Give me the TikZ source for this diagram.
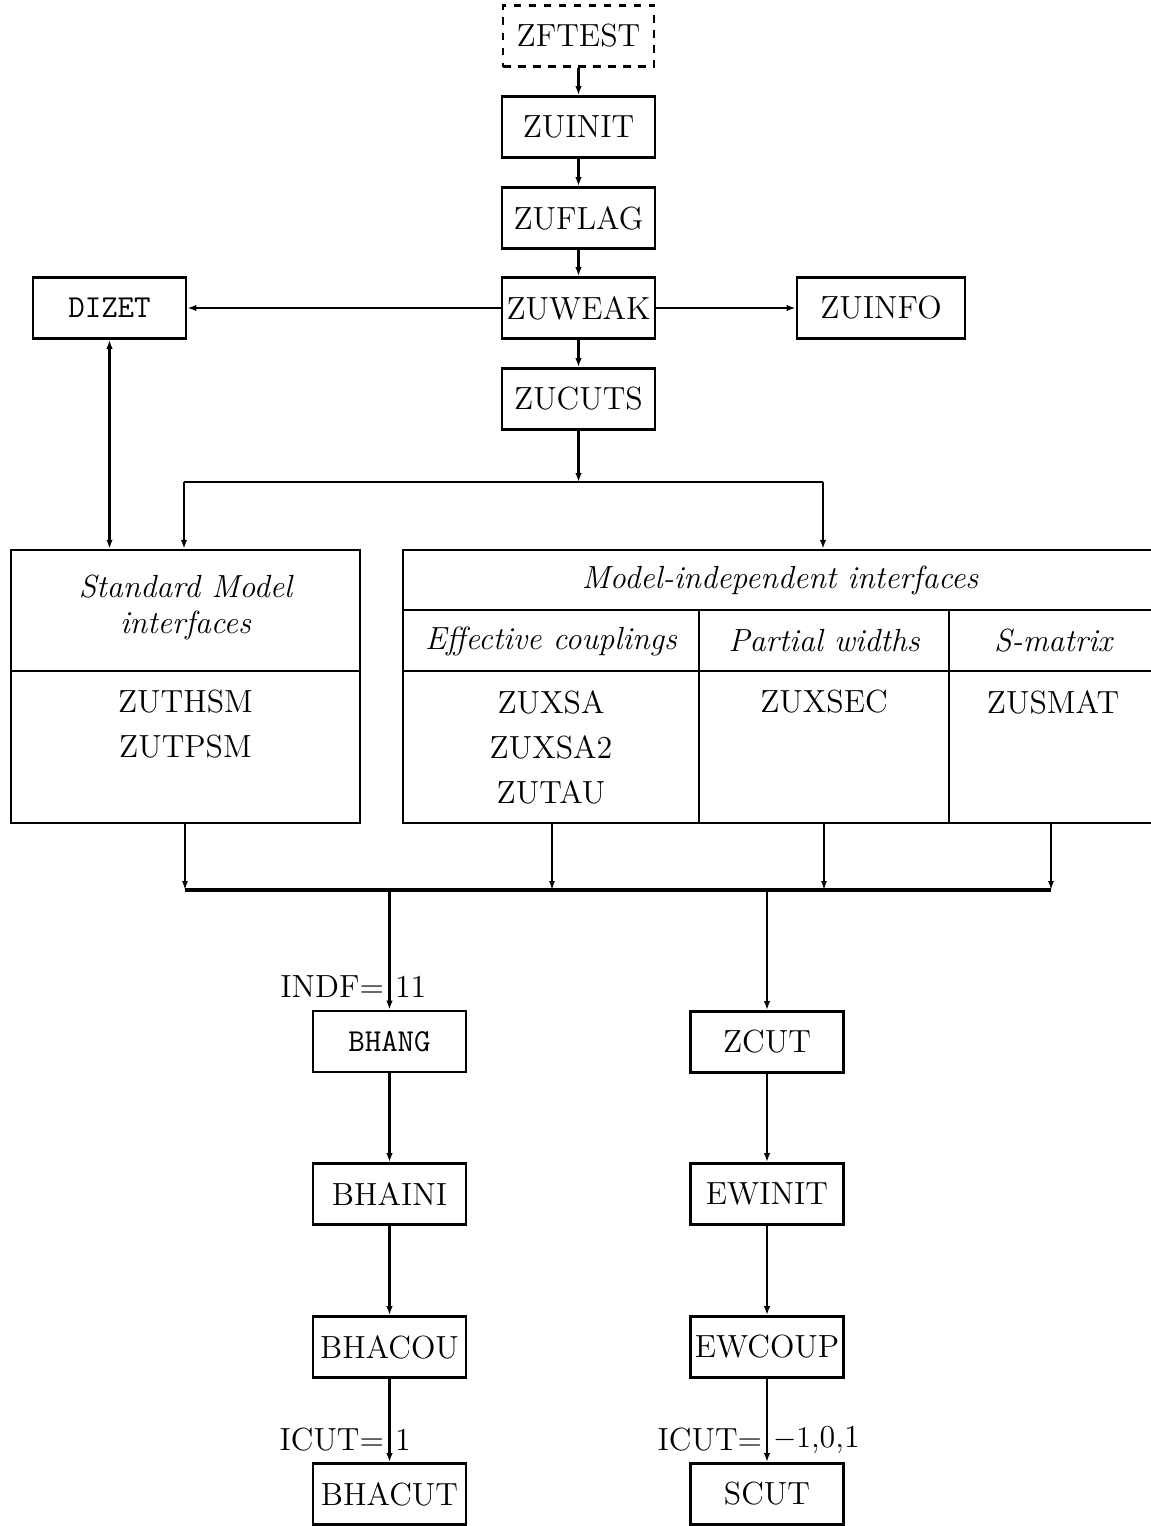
\documentclass[tikz,border=0pt]{standalone}
\usetikzlibrary{arrows.meta}
\begin{document}
\begin{tikzpicture}[x=0.4pt,y=-0.4pt,
  every node/.style={font=\fontsize{12.8}{15.4}\selectfont},
  box/.style={draw,line width=1.1pt,inner sep=0pt,minimum width=61.2pt,minimum height=24.4pt},
  dbox/.style={box,dashed},
  arr/.style={line width=0.9pt,-{Latex[length=3.6pt,width=2.6pt]}},
  darr/.style={line width=0.9pt,{Latex[length=3.6pt,width=2.6pt]}-{Latex[length=3.6pt,width=2.6pt]}},
  ln/.style={line width=0.9pt},
  tarr/.style={line width=0.6pt,-{Latex[length=3.6pt,width=2.4pt]}},
  lbl/.style={inner sep=1pt}
]
\useasboundingbox (0,0) rectangle (1151,1526);

% top chain
\node[dbox,minimum width=60.4pt] (zftest) at (578.5,36) {ZFTEST};
\node[box] (zuinit) at (578.5,127) {ZUINIT};
\node[box] (zuflag) at (578.5,218) {ZUFLAG};
\node[box] (zuweak) at (578.5,308) {ZUWEAK};
\node[box] (zucuts) at (578.5,399) {ZUCUTS};
\node[box] (dizet) at (109.5,308) {\ttfamily DIZET};
\node[box,minimum width=67.2pt] (zuinfo) at (881,308) {ZUINFO};

\draw[arr] (zftest) -- (zuinit);
\draw[arr] (zuinit) -- (zuflag);
\draw[arr] (zuflag) -- (zuweak);
\draw[arr] (zuweak) -- (zucuts);
\draw[arr] (zuweak) -- (dizet);
\draw[arr] (zuweak) -- (zuinfo);

% interface boxes
\node[draw,line width=1pt,inner sep=0pt,minimum width=139.6pt,minimum height=109.2pt] (sm) at (185.5,686.5) {};
\node[draw,line width=1pt,inner sep=0pt,minimum width=301.6pt,minimum height=109.2pt] (mi) at (780,686.5) {};
\draw[ln] (11,671) -- (360,671);
\draw[ln] (403,610) -- (1157,610);
\draw[ln] (403,671) -- (1157,671);
\draw[line width=0.6pt] (699,610) -- (699,823);
\draw[line width=0.6pt] (949,610) -- (949,823);

\node (smh) at (185.5,607) [align=center,font=\fontsize{12.8}{14.4}\selectfont] {\itshape Standard Model\\\itshape interfaces};
\node (smb) at (185.5,724.5) [align=center,font=\fontsize{12.8}{18}\selectfont] {ZUTHSM\\ZUTPSM};
\node (mih) at (780,580) {\itshape Model-independent interfaces};
\node (ech) at (551,641) {\itshape Effective couplings};
\node (pwh) at (824,641) {\itshape Partial widths};
\node (smx) at (1053,641) {\itshape S-matrix};
\node (ecb) at (551,747) [align=center,font=\fontsize{12.8}{18}\selectfont] {ZUXSA\\ZUXSA2\\ZUTAU};
\node (pwb) at (824,702) {ZUXSEC};
\node (smxb) at (1053,702) {ZUSMAT};

% split from ZUCUTS
\coordinate (split) at (578.5,482);
\coordinate (splitL) at (184,482);
\coordinate (splitR) at (823,482);
\draw[arr] (zucuts) -- (split);
\draw[ln] (splitL) -- (splitR);
\draw[arr] (splitL) -- (splitL |- sm.north);
\draw[arr] (splitR) -- (splitR |- mi.north);
\draw[darr] (dizet.south) -- (dizet.south |- sm.north);

% bus
\coordinate (busL) at (185,890);
\coordinate (busR) at (1051,890);
\draw[line width=1.3pt] (busL) -- (busR);
\draw[tarr] (185,823) -- (busL);
\draw[tarr] (552,823) -- (552,890);
\draw[tarr] (824,823) -- (824,890);
\draw[tarr] (1051,823) -- (busR);

% lower chains
\node[box] (bhang) at (389.5,1041.5) {\ttfamily BHANG};
\node[box] (bhaini) at (389.5,1194) {BHAINI};
\node[box] (bhacou) at (389.5,1347) {BHACOU};
\node[box] (bhacut) at (389.5,1494) {BHACUT};
\node[box] (zcut) at (767,1042) {ZCUT};
\node[box] (ewinit) at (767,1194) {EWINIT};
\node[box] (ewcoup) at (767,1347) {EWCOUP};
\node[box] (scut) at (767,1494) {SCUT};

\coordinate (busA) at (389.5,890);
\coordinate (busB) at (767,890);
\draw[arr] (busA) -- (bhang);
\draw[arr] (busB) -- (zcut);
\draw[arr] (bhang) -- (bhaini);
\draw[arr] (bhaini) -- (bhacou);
\draw[arr] (bhacou) -- (bhacut);
\draw[arr] (zcut) -- (ewinit);
\draw[arr] (ewinit) -- (ewcoup);
\draw[arr] (ewcoup) -- (scut);

\node[lbl,anchor=east] (indfl) at (387,987) {INDF=};
\node[lbl,anchor=west] (indfr) at (392,987) {11};
\node[lbl,anchor=east] (icutl) at (387,1440) {ICUT=};
\node[lbl,anchor=west] (icutr) at (392,1440) {1};
\node[lbl,anchor=east] (icut2l) at (765,1440) {ICUT=};
\node[lbl,anchor=west] (icut2r) at (770,1440) {$-1$,0,1};
\end{tikzpicture}
\end{document}
